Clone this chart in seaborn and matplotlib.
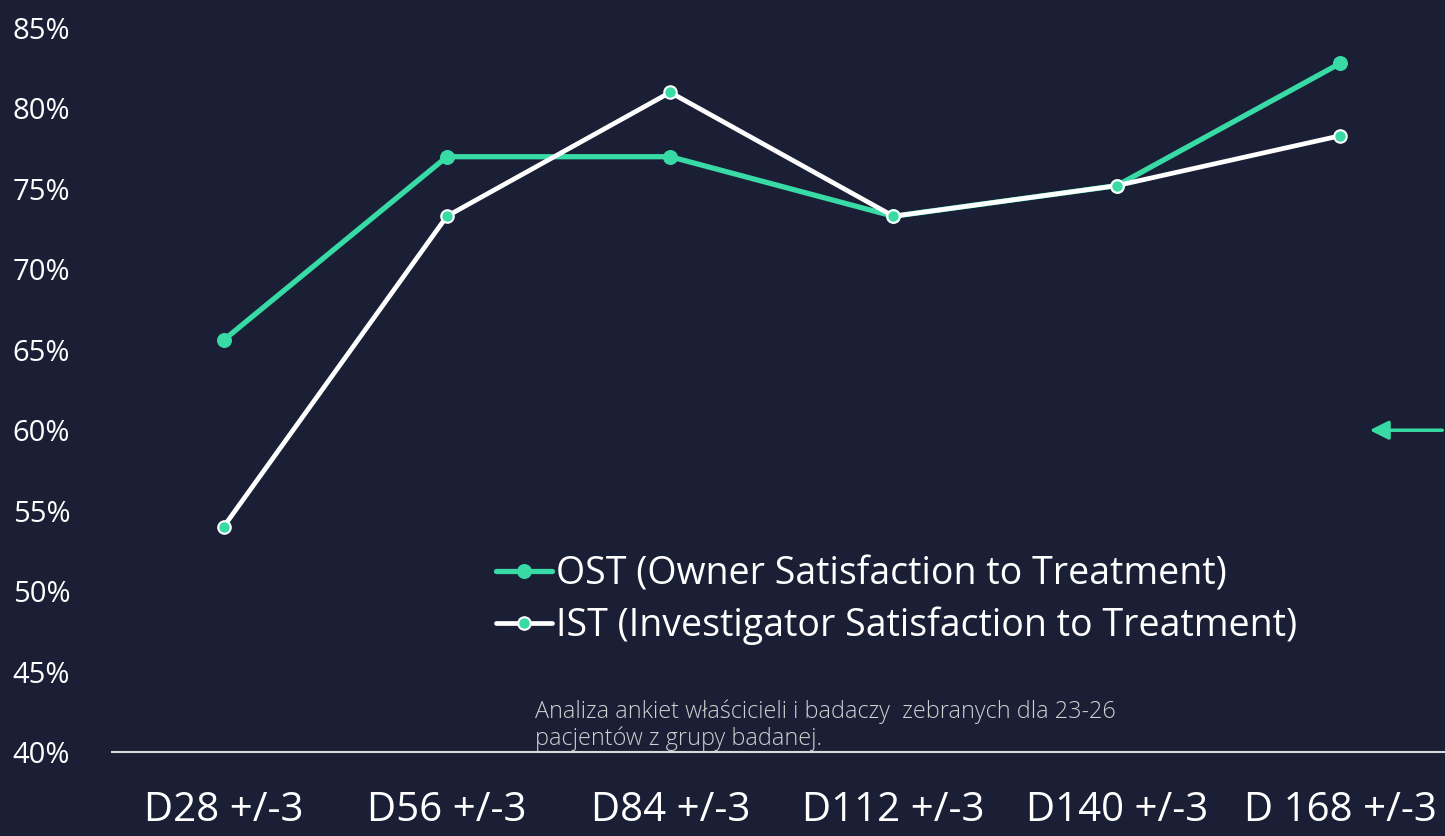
import matplotlib
matplotlib.use("Agg")
import matplotlib.pyplot as plt
import seaborn as sns
import pandas as pd

# dane z wykresu
wizyty = ["D28 +/-3", "D56 +/-3", "D84 +/-3", "D112 +/-3", "D140 +/-3", "D 168 +/-3"]
ost = [65.6, 77.0, 77.0, 73.3, 75.2, 82.8]
ist = [54.0, 73.3, 81.0, 73.3, 75.2, 78.3]
y_ticks = [40, 45, 50, 55, 60, 65, 70, 75, 80, 85]
nazwa_ost = "OST (Owner Satisfaction to Treatment)"
nazwa_ist = "IST (Investigator Satisfaction to Treatment)"
przypis = "Analiza ankiet właścicieli i badaczy  zebranych dla 23-26\npacjentów z grupy badanej."

tlo = "#1a1f35"
zielony = "#38dba6"

sns.set_theme(style="white")
plt.rcParams["font.family"] = ["Open Sans", "DejaVu Sans"]

df = pd.DataFrame({"wizyta": wizyty, "OST": ost, "IST": ist})

fig = plt.figure(figsize=(14.45, 8.36), dpi=100, facecolor=tlo)
ax = fig.add_axes([112 / 1445, 84 / 836, 1 - 112 / 1445, 724 / 836])
ax.set_facecolor(tlo)

sns.lineplot(data=df, x="wizyta", y="OST", ax=ax, color=zielony, linewidth=3.8,
             marker="o", markersize=10, markerfacecolor=zielony, markeredgecolor=zielony,
             label=nazwa_ost, sort=False)
sns.lineplot(data=df, x="wizyta", y="IST", ax=ax, color="white", linewidth=3.4,
             marker="o", markersize=9, markerfacecolor=zielony, markeredgecolor="white",
             markeredgewidth=1.5, label=nazwa_ist, sort=False)

ax.set_xlim(-0.5, 5.47)
ax.set_ylim(40, 85)
ax.set_yticks(y_ticks)
ax.set_yticklabels([f"{t}%" for t in y_ticks])
ax.set_xlabel("")
ax.set_ylabel("")
for s in ["top", "right", "left"]:
    ax.spines[s].set_visible(False)
ax.spines["bottom"].set_color("#d9d9d9")
ax.spines["bottom"].set_linewidth(1.5)
ax.tick_params(axis="y", colors="white", labelsize=21, length=0, pad=30)
ax.tick_params(axis="x", colors="white", labelsize=29, length=0, pad=28)

leg = ax.legend(loc="center left", bbox_to_anchor=(462 / 1445, 1 - 600 / 836),
                bbox_transform=fig.transFigure, frameon=False, fontsize=27,
                handlelength=1.5, handletextpad=0.1, labelspacing=0.35,
                labelcolor="white")

fig.text(535 / 1445, 1 - 700 / 836, przypis, color="#d0d0d0", fontsize=16.8,
         family=["Open Sans", "DejaVu Sans"], weight="light", va="top", linespacing=1.1)

# strzałka po prawej stronie
ax.annotate("", xy=(5.12, 60), xytext=(5.47, 60),
            arrowprops=dict(arrowstyle="-|>", color=zielony, lw=2.5, mutation_scale=28),
            annotation_clip=False)

fig.savefig("out.png", dpi=100, facecolor=tlo)
